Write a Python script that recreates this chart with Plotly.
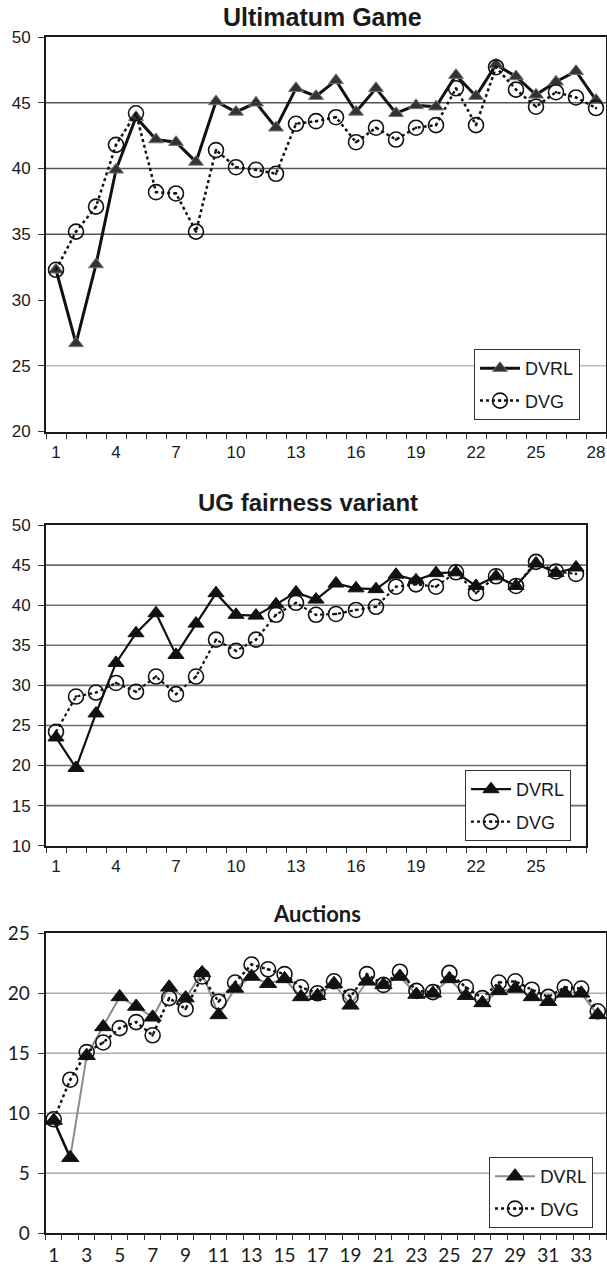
import plotly.graph_objects as go

# ---- data -------------------------------------------------------------
ug_rounds = list(range(1, 29))
ug_dvrl = [32.3, 26.7, 32.7, 39.9, 43.9, 42.2, 42.0, 40.5, 45.1, 44.3, 45.0, 43.1, 46.1, 45.5,
           46.7, 44.3, 46.1, 44.2, 44.8, 44.7, 47.1, 45.5, 47.9, 47.0, 45.6, 46.6, 47.4, 45.2]
ug_dvg = [32.3, 35.2, 37.1, 41.8, 44.2, 38.2, 38.1, 35.2, 41.4, 40.1, 39.9, 39.6, 43.4, 43.6,
          43.9, 42.0, 43.1, 42.2, 43.1, 43.3, 46.1, 43.3, 47.7, 46.0, 44.7, 45.8, 45.4, 44.6]
ug_labels = [1, 4, 7, 10, 13, 16, 19, 22, 25, 28]

fair_rounds = list(range(1, 28))
fair_dvrl = [23.5, 19.7, 26.5, 32.8, 36.5, 39.0, 33.8, 37.7, 41.5, 38.8, 38.7, 40.1, 41.6, 40.7,
             42.7, 42.1, 42.0, 43.8, 43.1, 44.0, 44.1, 42.4, 43.6, 42.4, 45.2, 44.0, 44.7]
fair_dvg = [24.2, 28.6, 29.1, 30.3, 29.2, 31.1, 28.9, 31.1, 35.7, 34.3, 35.7, 38.8, 40.3, 38.8,
            38.9, 39.4, 39.8, 42.3, 42.6, 42.3, 44.1, 41.5, 43.6, 42.4, 45.4, 44.2, 43.9]
fair_labels = [1, 4, 7, 10, 13, 16, 19, 22, 25]

auc_rounds = list(range(1, 35))
auc_dvrl = [9.4, 6.3, 14.8, 17.2, 19.7, 18.9, 18.0, 20.5, 19.6, 21.7, 18.2, 20.4, 21.4, 20.8,
            21.2, 19.7, 19.8, 20.8, 19.0, 21.0, 20.7, 21.4, 19.9, 20.0, 21.2, 19.8, 19.2, 20.2,
            20.4, 19.7, 19.3, 20.0, 20.0, 18.2]
auc_dvg = [9.5, 12.8, 15.1, 15.9, 17.1, 17.6, 16.5, 19.6, 18.7, 21.4, 19.3, 20.9, 22.4, 22.0,
           21.6, 20.5, 20.0, 21.0, 19.7, 21.6, 20.7, 21.8, 20.2, 20.1, 21.7, 20.5, 19.6, 20.9,
           21.0, 20.3, 19.7, 20.5, 20.4, 18.5]
auc_labels = list(range(1, 34, 2))

titles = ["Ultimatum Game", "UG fairness variant", "Auctions"]
series_names = ["DVRL", "DVG"]

W, H = 607, 1266
ARIAL = "Liberation Sans, Arial, sans-serif"
CALIBRI = "Lato, sans-serif"


def px_x(p):
    return p / W


def px_y(p):
    return 1 - p / H


fig = go.Figure()

panels = [
    dict(rounds=ug_rounds, dvrl=ug_dvrl, dvg=ug_dvg, labels=ug_labels, title=titles[0],
         xdom=[46, 606], ydom=[37, 431.5], yr=[20, 50], font=ARIAL, fs=17,
         grid=[(25, "#bdbdbd"), (35, "#555"), (40, "#555"), (45, "#555")],
         tri=dict(size=13, color="#333", line=dict(color="#777", width=1)),
         dvrl_line=dict(color="#111", width=3), dvg_line=dict(color="#111", width=2.5, dash="dot"),
         circ=15, title_xy=(322, 17), title_fs=25, legend_xy=(580, 349)),
    dict(rounds=fair_rounds, dvrl=fair_dvrl, dvg=fair_dvg, labels=fair_labels, title=titles[1],
         xdom=[46, 586], ydom=[525, 845.7], yr=[10, 50], font=ARIAL, fs=17,
         grid=[(v, "#6e6e6e") for v in (15, 20, 25, 30, 35, 40, 45)],
         tri=dict(size=14, color="#111", line=dict(color="#111", width=1)),
         dvrl_line=dict(color="#111", width=2.2), dvg_line=dict(color="#111", width=2.2, dash="dot"),
         circ=15, title_xy=(307.5, 502.7), title_fs=24, legend_xy=(571, 770)),
    dict(rounds=auc_rounds, dvrl=auc_dvrl, dvg=auc_dvg, labels=auc_labels, title=titles[2],
         xdom=[45.5, 606], ydom=[933.3, 1233.3], yr=[0, 25], font=CALIBRI, fs=19,
         grid=[(v, "#ababab") for v in (5, 10, 15, 20)],
         tri=dict(size=15, color="#111", line=dict(color="#111", width=1)),
         dvrl_line=dict(color="#8c8c8c", width=2), dvg_line=dict(color="#111", width=2.5, dash="dot"),
         circ=15, title_xy=(316.5, 913), title_fs=22, legend_xy=(593, 1157)),
]

for i, p in enumerate(panels):
    k = "" if i == 0 else str(i + 1)
    xa, ya = "x" + k, "y" + k
    leg = "legend" + k
    n = len(p["rounds"])

    fig.add_trace(go.Scatter(
        x=p["rounds"], y=p["dvrl"], name=series_names[0], mode="lines+markers",
        xaxis=xa, yaxis=ya, legend=leg, legendgroup=f"a{i}",
        line=p["dvrl_line"], marker=dict(symbol="triangle-up", **p["tri"])))
    if i == 2:
        # opening segment of the auction DVRL series is drawn dark
        fig.add_trace(go.Scatter(
            x=p["rounds"][:2], y=p["dvrl"][:2], mode="lines", showlegend=False,
            xaxis=xa, yaxis=ya, line=dict(color="#111", width=2.5), hoverinfo="skip"))
    fig.add_trace(go.Scatter(
        x=p["rounds"], y=p["dvg"], name=series_names[1], mode="lines+markers",
        xaxis=xa, yaxis=ya, legend=leg, legendgroup=f"b{i}",
        line=p["dvg_line"],
        marker=dict(symbol="circle-open-dot", size=p["circ"], color="#111",
                    line=dict(color="#111", width=1.6))))

    tickfont = dict(family=p["font"], size=p["fs"], color="#1a1a1a")
    fig.update_layout(**{
        "xaxis" + k: dict(
            domain=[px_x(p["xdom"][0]), px_x(p["xdom"][1])], anchor=ya,
            range=[0.5, n + 0.5], tickmode="array", tickvals=p["labels"],
            ticktext=[str(v) for v in p["labels"]], ticks="outside", ticklen=4,
            tickcolor="rgba(0,0,0,0)", tickfont=tickfont, showgrid=False, zeroline=False,
            showline=True, linecolor="#1a1a1a", linewidth=2, mirror=True,
            automargin=False, fixedrange=True,
            minor=dict(tickmode="array", tickvals=[j + 0.5 for j in range(n + 1)],
                       ticks="outside", ticklen=5, tickcolor="#333", tickwidth=1,
                       showgrid=False)),
        "yaxis" + k: dict(
            domain=[px_y(p["ydom"][1]), px_y(p["ydom"][0])], anchor=xa,
            range=p["yr"], dtick=5, tick0=0, ticks="outside", ticklen=6, tickcolor="#333",
            tickfont=tickfont, showgrid=False, zeroline=False, showline=True,
            linecolor="#1a1a1a", linewidth=2, mirror=True, automargin=False,
            ticklabelstandoff=4),
        leg: dict(
            x=px_x(p["legend_xy"][0]), y=px_y(p["legend_xy"][1]), xanchor="right", yanchor="top",
            bgcolor="white", bordercolor="#333", borderwidth=1,
            font=dict(family=p["font"], size=18, color="#1a1a1a"),
            traceorder="grouped", tracegroupgap=6, itemwidth=40),
    })

    for v, col in p["grid"]:
        fig.add_shape(type="line", xref=xa + " domain", yref=ya, x0=0, x1=1, y0=v, y1=v,
                      line=dict(color=col, width=1.6), layer="below")

    fig.add_annotation(
        text=f"<b>{p['title']}</b>", xref="paper", yref="paper",
        x=px_x(p["title_xy"][0]), y=px_y(p["title_xy"][1]), xanchor="center", yanchor="middle",
        showarrow=False, font=dict(family=p["font"], size=p["title_fs"], color="#1a1a1a"))

fig.update_layout(
    width=W, height=H, margin=dict(l=0, r=0, t=0, b=0),
    paper_bgcolor="white", plot_bgcolor="white", showlegend=True,
)

fig.write_html("out.html")
